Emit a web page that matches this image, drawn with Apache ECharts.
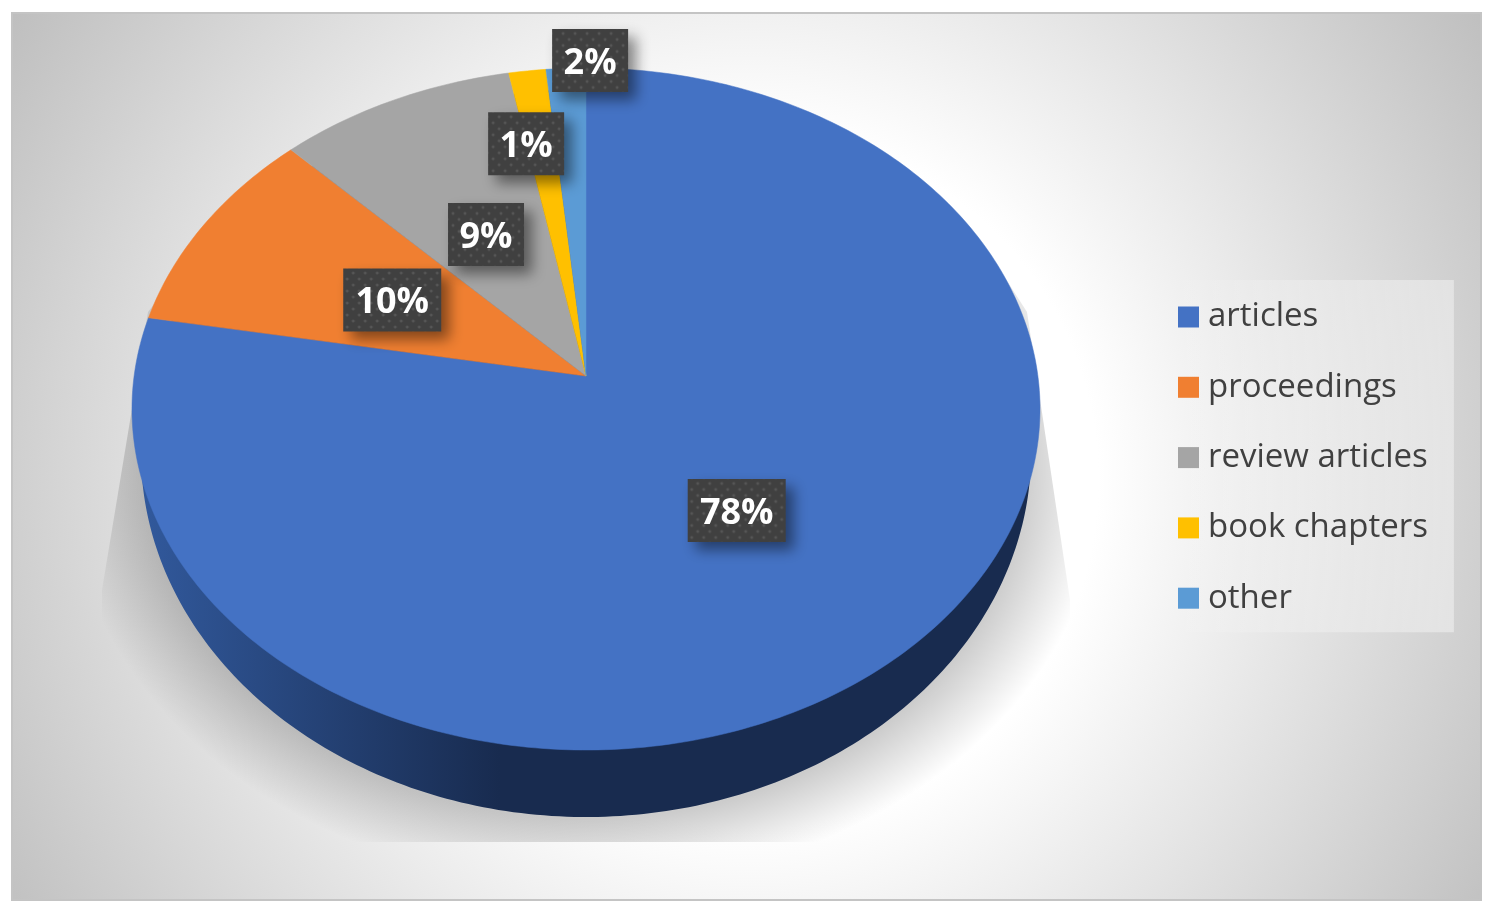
<!DOCTYPE html>
<html>
<head>
<meta charset="utf-8">
<title>Publication types</title>
<style>
  html, body { margin: 0; padding: 0; background: #fff; }
  #main { width: 1494px; height: 916px; }
</style>
<script src="https://cdn.jsdelivr.net/npm/echarts@6/dist/echarts.min.js"></script>
</head>
<body>
<div id="main"></div>
<script>
// data
const categories = ["articles", "proceedings", "review articles", "book chapters", "other"];
const shares = [77.8, 9.9, 9.3, 1.45, 1.55];
const colors = ["#4472c4", "#f07f31", "#a5a5a5", "#ffc000", "#5b9bd5"];

// where each label sits: fraction of the radius, and a nudge along the rim (in %)
const labelRadius = [0.5, 0.495, 0.494, 0.75, 1.027];
const labelNudge = [0, -0.06, -0.08, -0.755, 0.93];

// tilted disc: apex + perspective
const apex = { x: 586, y: 376 };
const tilt = { a: 451.9, b: 337.8, k: 0.0968 };
const topEllipse = { cy: 409, rx: 454, ry: 341 };
const baseEllipse = { cy: 453, rx: 445, ry: 364 };

function starts() {
  let sum = 0;
  return shares.map(function (v) {
    let s = sum;
    sum += v;
    return s;
  });
}
const startAt = starts();

// pct clockwise from 12 o'clock, r = fraction of radius
function project(pct, r) {
  let t = (pct / 100) * Math.PI * 2;
  let X = Math.sin(t) * r;
  let Y = Math.cos(t) * r;
  let d = 1 + tilt.k * Y;
  return [apex.x + (tilt.a * X) / d, apex.y - (tilt.b * Y) / d];
}

function toBase(p) {
  let u = (p[0] - apex.x) / topEllipse.rx;
  let v = (p[1] - topEllipse.cy) / topEllipse.ry;
  return [apex.x + u * baseEllipse.rx, baseEllipse.cy + v * baseEllipse.ry];
}

function rimPoints(from, to) {
  let pts = [];
  let n = Math.max(4, Math.ceil((to - from) * 4));
  for (let i = 0; i <= n; i++) {
    pts.push(project(from + ((to - from) * i) / n, 1));
  }
  return pts;
}

// dark side of the disc, only the part outside the top face stays visible
function renderWall(params, api) {
  let i = params.dataIndex;
  let from = startAt[i];
  let pts = rimPoints(from, from + api.value(0)).map(toBase);
  pts.unshift([apex.x, baseEllipse.cy]);
  return {
    type: "polygon",
    shape: { points: pts },
    style: {
      fill: {
        type: "linear",
        x: 132, y: 0, x2: 500, y2: 0,
        global: true,
        colorStops: [
          { offset: 0, color: "#325a9e" },
          { offset: 1, color: "#182b4f" },
        ],
      },
    },
  };
}

function renderSlice(index) {
  return function (params, api) {
    let from = startAt[index];
    let pts = rimPoints(from, from + api.value(0));
    pts.unshift([apex.x, apex.y]);
    return {
      type: "polygon",
      shape: { points: pts },
      style: { fill: colors[index], stroke: colors[index], lineWidth: 0.5 },
    };
  };
}

// soft shadow under the disc
function renderShadow() {
  return {
    type: "group",
    clipPath: {
      type: "polygon",
      shape: {
        points: [[180, 270], [1000, 270], [1027, 312], [1070, 600], [1070, 842], [102, 842], [102, 590], [148, 312]],
      },
    },
    children: [
      {
        type: "circle",
        shape: { cx: 0, cy: 0, r: 520 },
        x: 586,
        y: 470,
        scaleY: 0.8,
        style: {
          fill: {
            type: "radial",
            x: 0.5, y: 0.5, r: 0.5,
            colorStops: [
              { offset: 0, color: "rgba(0,0,0,0.2)" },
              { offset: 0.84, color: "rgba(0,0,0,0.2)" },
              { offset: 1, color: "rgba(0,0,0,0)" },
            ],
          },
        },
      },
    ],
  };
}

function dotTile() {
  let c = document.createElement("canvas");
  c.width = 12;
  c.height = 12;
  let g = c.getContext("2d");
  g.fillStyle = "#404040";
  g.fillRect(0, 0, 12, 12);
  g.fillStyle = "#565656";
  [[3, 3], [9, 9]].forEach(function (d) {
    g.beginPath();
    g.arc(d[0], d[1], 1.5, 0, Math.PI * 2);
    g.fill();
  });
  return c;
}
const tile = dotTile();

function renderLabel(params, api) {
  let i = params.dataIndex;
  let value = api.value(0);
  let p = project(startAt[i] + value / 2 + labelNudge[i], labelRadius[i]);
  let text = Math.round(value) + "%";
  let w = text.length > 2 ? 98 : 76;
  let h = 63;
  return {
    type: "group",
    x: p[0],
    y: p[1],
    children: [
      {
        type: "rect",
        shape: { x: -w / 2, y: -h / 2, width: w, height: h },
        style: {
          fill: { image: tile, repeat: "repeat" },
          shadowBlur: 14,
          shadowOffsetX: 8,
          shadowOffsetY: 8,
          shadowColor: "rgba(0,0,0,0.45)",
        },
      },
      {
        type: "text",
        style: {
          text: text,
          x: 0,
          y: 3,
          align: "center",
          verticalAlign: "middle",
          fill: "#fff",
          font: 'bold 36px "Open Sans"',
        },
      },
    ],
  };
}

const valueRows = shares.map(function (v) {
  return [v];
});

let myChart = echarts.init(document.getElementById("main"));
let option = {
  animation: false,
  graphic: [
    {
      type: "rect",
      z: -1,
      shape: { x: 12, y: 13, width: 1469, height: 887 },
      style: {
        stroke: "#c4c4c4",
        lineWidth: 2,
        fill: {
          type: "radial",
          x: 750, y: 480, r: 870,
          global: true,
          colorStops: [
            { offset: 0, color: "#ffffff" },
            { offset: 0.4, color: "#ffffff" },
            { offset: 1, color: "#bfbfbf" },
          ],
        },
      },
    },
  ],
  legend: {
    data: categories,
    orient: "vertical",
    left: 1165,
    top: 280,
    padding: [17, 26, 14, 13],
    backgroundColor: {
      type: "linear",
      x: 0, y: 0, x2: 1, y2: 0,
      colorStops: [
        { offset: 0, color: "rgba(255,255,255,0)" },
        { offset: 0.5, color: "rgba(255,255,255,0.25)" },
        { offset: 1, color: "rgba(255,255,255,0.4)" },
      ],
    },
    icon: "rect",
    itemWidth: 21,
    itemHeight: 21,
    itemGap: 30.3,
    selectedMode: false,
    textStyle: {
      color: "#404040",
      fontFamily: "Open Sans",
      fontSize: 33,
      lineHeight: 40,
      padding: [0, 0, 0, 4],
    },
  },
  series: [
    {
      type: "custom",
      coordinateSystem: "none",
      silent: true,
      data: [[1]],
      renderItem: renderShadow,
    },
    {
      type: "custom",
      coordinateSystem: "none",
      silent: true,
      data: valueRows,
      renderItem: renderWall,
    },
  ]
    .concat(
      categories.map(function (name, i) {
        return {
          name: name,
          type: "custom",
          coordinateSystem: "none",
          silent: true,
          itemStyle: { color: colors[i] },
          data: [valueRows[i]],
          renderItem: renderSlice(i),
        };
      })
    )
    .concat([
      {
        type: "custom",
        coordinateSystem: "none",
        silent: true,
        data: valueRows,
        renderItem: renderLabel,
      },
    ]),
};
myChart.setOption(option);
</script>
</body>
</html>
